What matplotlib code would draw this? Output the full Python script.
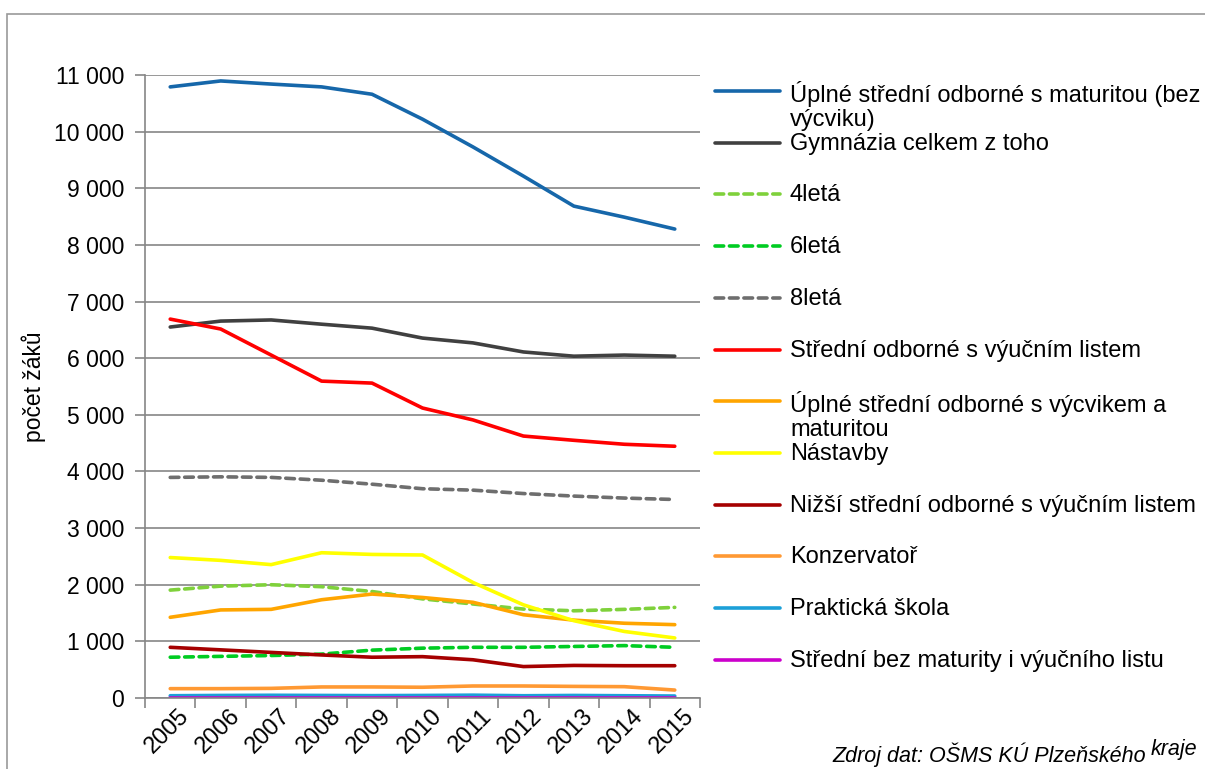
import matplotlib
matplotlib.use('Agg')
import matplotlib.pyplot as plt
from matplotlib.lines import Line2D
from matplotlib.patches import Rectangle
from matplotlib.ticker import FuncFormatter, FixedLocator
import matplotlib.transforms as mtransforms

plt.rcParams['font.family'] = ['Liberation Sans', 'DejaVu Sans']

years = [2005, 2006, 2007, 2008, 2009, 2010, 2011, 2012, 2013, 2014, 2015]

names = [
    'Úplné střední odborné s maturitou (bez\nvýcviku)',
    'Gymnázia celkem z toho',
    '4letá',
    '6letá',
    '8letá',
    'Střední odborné s výučním listem',
    'Úplné střední odborné s výcvikem a\nmaturitou',
    'Nástavby',
    'Nižší střední odborné s výučním listem',
    'Konzervatoř',
    'Praktická škola',
    'Střední bez maturity i výučního listu',
]

uplne_bez_vycviku = [10790, 10895, 10840, 10790, 10660, 10220, 9730, 9215, 8685, 8490, 8280]
gymnazia = [6550, 6655, 6675, 6600, 6530, 6355, 6270, 6110, 6035, 6055, 6035]
ctyrleta = [1905, 1975, 2000, 1965, 1880, 1750, 1660, 1570, 1540, 1565, 1600]
sestileta = [720, 735, 750, 775, 845, 880, 895, 895, 910, 925, 895]
osmileta = [3895, 3905, 3895, 3845, 3775, 3695, 3670, 3610, 3565, 3530, 3505]
vyucni_list = [6690, 6515, 6055, 5595, 5560, 5120, 4910, 4625, 4550, 4480, 4445]
uplne_s_vycvikem = [1425, 1555, 1565, 1735, 1835, 1775, 1690, 1470, 1375, 1320, 1295]
nastavby = [2480, 2430, 2355, 2565, 2535, 2525, 2040, 1645, 1365, 1175, 1060]
nizsi = [895, 850, 805, 760, 720, 730, 675, 555, 575, 570, 570]
konzervator = [165, 165, 170, 195, 195, 190, 212, 212, 205, 200, 140]
prakticka = [40, 45, 48, 45, 42, 45, 50, 40, 45, 40, 35]
bez_maturity = [8, 8, 8, 8, 8, 8, 8, 8, 8, 8, 8]

series = [uplne_bez_vycviku, gymnazia, ctyrleta, sestileta, osmileta, vyucni_list,
          uplne_s_vycvikem, nastavby, nizsi, konzervator, prakticka, bez_maturity]
colors = ['#1667AA', '#404040', '#7FD13B', '#00CC22', '#6E6E6E', '#FF0000',
          '#FFA500', '#FFFF00', '#A50000', '#FF9933', '#1CA0D8', '#CC00CC']
dashed = [False, False, True, True, True, False, False, False, False, False, False, False]

W, H = 1205, 769
fig = plt.figure(figsize=(W / 100, H / 100), dpi=100)
ax = fig.add_axes([145 / W, 1 - 698 / H, 555 / W, 623 / H])

xs = list(range(len(years)))
lw = 2.6
for vals, color, dash in zip(series, colors, dashed):
    if dash:
        ax.plot(xs, vals, color=color, lw=lw, dashes=(2.4, 1.6),
                dash_capstyle='round', solid_joinstyle='round')
    else:
        ax.plot(xs, vals, color=color, lw=lw, solid_capstyle='round',
                solid_joinstyle='round')

ax.set_xlim(-0.5, len(years) - 0.5)
ax.set_ylim(0, 11000)
ax.set_yticks(range(0, 11001, 1000))
ax.yaxis.set_major_formatter(FuncFormatter(lambda v, p: '{:,}'.format(int(v)).replace(',', ' ')))
ax.grid(axis='y', color='#868686', lw=1.2)
ax.set_axisbelow(True)

ax.xaxis.set_major_locator(FixedLocator([x - 0.5 for x in range(len(years) + 1)]))
ax.xaxis.set_minor_locator(FixedLocator(xs))
ax.set_xticklabels([])
ax.set_xticklabels([str(y) for y in years], minor=True, rotation=45,
                   ha='right', va='top', rotation_mode='anchor')
ax.tick_params(axis='x', which='minor', length=0, pad=5, labelsize=17)
ax.tick_params(axis='x', which='major', length=7, color='#868686', width=1.2)
ax.tick_params(axis='y', length=7, color='#868686', width=1.2, labelsize=16.5, pad=8)
shift = mtransforms.ScaledTranslation(8 / 100, 0, fig.dpi_scale_trans)
for lab in ax.get_xticklabels(minor=True):
    lab.set_transform(lab.get_transform() + shift)
for side in ('top', 'right'):
    ax.spines[side].set_visible(False)
for side in ('left', 'bottom'):
    ax.spines[side].set_color('#868686')
    ax.spines[side].set_linewidth(1.2)

ax.set_ylabel('počet žáků', fontsize=16.5)
ax.yaxis.set_label_coords(-0.178, 0.5)

# legend drawn by hand to match the layout of the original
legend_top = 91
step = 51.7
for i, (name, color, dash) in enumerate(zip(names, colors, dashed)):
    y = 1 - (legend_top + i * step) / H
    line = Line2D([715 / W, 780 / W], [y, y], transform=fig.transFigure,
                  color=color, lw=lw, dashes=(2.4, 1.6) if dash else (None, None),
                  solid_capstyle='round', dash_capstyle='round')
    fig.add_artist(line)
    fig.text(790 / W, y + 10 / H, name, fontsize=17, va='top', ha='left',
             linespacing=1.13)

fig.add_artist(Rectangle((7 / W, -0.1), 1.2, 1 - 14 / H + 0.1, transform=fig.transFigure,
                         fill=False, edgecolor='#9A9A9A', lw=1.2))

fig.text(1146 / W, 1 - 762 / H, 'Zdroj dat: OŠMS KÚ Plzeňského', fontsize=15.5,
         style='italic', ha='right', va='baseline')
fig.text(1151 / W, 1 - 755 / H, 'kraje', fontsize=15.5, style='italic',
         ha='left', va='baseline')

fig.savefig('out.png', dpi=100)
